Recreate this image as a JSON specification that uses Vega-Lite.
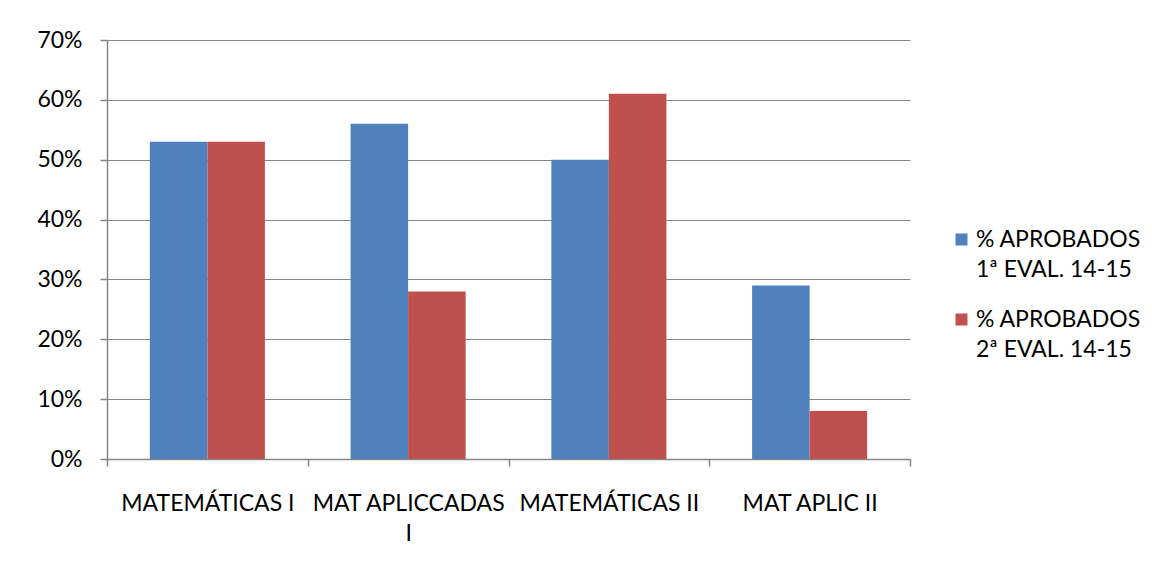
{
  "$schema": "https://vega.github.io/schema/vega-lite/v6.json",
  "autosize": {"type": "none"},
  "padding": {"left": 107, "top": 40, "right": 242, "bottom": 110},
  "width": 803,
  "height": 419,
  "background": "white",
  "data": {
    "values": [
      {"asignatura": "MATEMÁTICAS I", "serie": "% APROBADOS 1ª EVAL. 14-15", "valor": 0.53},
      {"asignatura": "MATEMÁTICAS I", "serie": "% APROBADOS 2ª EVAL. 14-15", "valor": 0.53},
      {"asignatura": "MAT APLICCADAS I", "serie": "% APROBADOS 1ª EVAL. 14-15", "valor": 0.56},
      {"asignatura": "MAT APLICCADAS I", "serie": "% APROBADOS 2ª EVAL. 14-15", "valor": 0.28},
      {"asignatura": "MATEMÁTICAS II", "serie": "% APROBADOS 1ª EVAL. 14-15", "valor": 0.50},
      {"asignatura": "MATEMÁTICAS II", "serie": "% APROBADOS 2ª EVAL. 14-15", "valor": 0.61},
      {"asignatura": "MAT APLIC II", "serie": "% APROBADOS 1ª EVAL. 14-15", "valor": 0.29},
      {"asignatura": "MAT APLIC II", "serie": "% APROBADOS 2ª EVAL. 14-15", "valor": 0.08}
    ]
  },
  "mark": {"type": "bar"},
  "encoding": {
    "x": {
      "field": "asignatura",
      "type": "nominal",
      "sort": null,
      "scale": {"paddingInner": 0, "paddingOuter": 0},
      "axis": {
        "title": null,
        "labelAngle": 0,
        "tickBand": "extent",
        "tickSize": 7,
        "labelPadding": 26,
        "labelFont": "Lato",
        "labelFontSize": 23,
        "labelColor": "black",
        "labelLineHeight": 30,
        "labelLimit": 300,
        "labelExpr": "datum.value == 'MAT APLICCADAS I' ? ['MAT APLICCADAS', 'I'] : datum.value",
        "domainColor": "#868686",
        "tickColor": "#868686",
        "domainWidth": 1.5,
        "tickWidth": 1.5
      }
    },
    "xOffset": {
      "field": "serie",
      "type": "nominal",
      "scale": {"paddingInner": 0, "paddingOuter": 0.745}
    },
    "y": {
      "field": "valor",
      "type": "quantitative",
      "scale": {"domain": [0, 0.7]},
      "axis": {
        "title": null,
        "format": ".0%",
        "values": [0, 0.1, 0.2, 0.3, 0.4, 0.5, 0.6, 0.7],
        "tickSize": 7,
        "labelPadding": 18,
        "labelFont": "Lato",
        "labelFontSize": 23,
        "labelColor": "black",
        "grid": true,
        "gridColor": "#868686",
        "gridWidth": 1.2,
        "domainColor": "#868686",
        "tickColor": "#868686",
        "domainWidth": 1.5,
        "tickWidth": 1.5
      }
    },
    "color": {
      "field": "serie",
      "type": "nominal",
      "scale": {"range": ["#4F81BD", "#C0504D"]},
      "legend": {
        "title": null,
        "orient": "none",
        "legendX": 843,
        "legendY": 188,
        "symbolType": "square",
        "symbolSize": 144,
        "symbolStrokeWidth": 0,
        "symbolOpacity": 1,
        "labelFont": "Lato",
        "labelFontSize": 23,
        "labelColor": "black",
        "labelLimit": 300,
        "labelOffset": 3,
        "rowPadding": 26,
        "labelExpr": "[slice(datum.label, 0, 11), slice(datum.label, 12)]",
        "encode": {
          "labels": {"update": {"lineHeight": {"value": 30}}}
        }
      }
    }
  },
  "config": {
    "view": {"stroke": null}
  }
}
